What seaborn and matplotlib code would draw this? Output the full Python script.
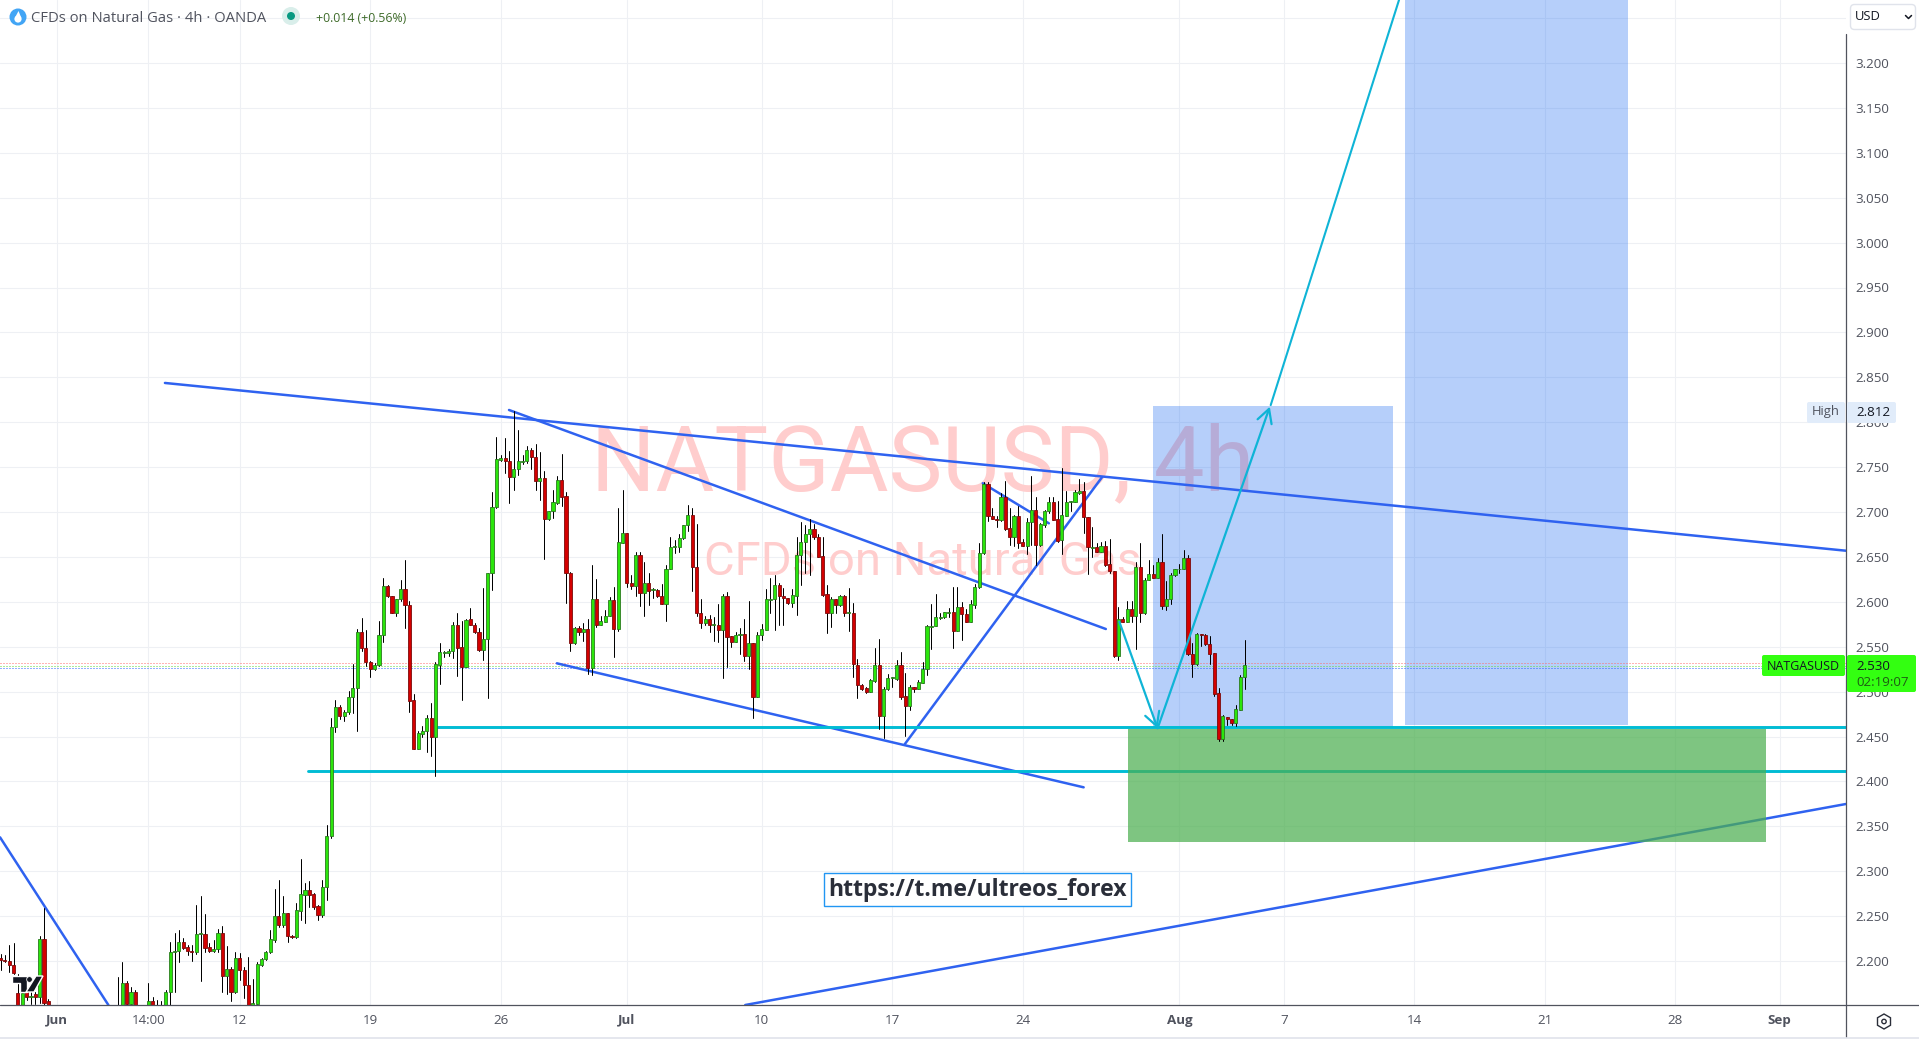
"""
NATGASUSD 4h chart with trend lines and target zones
"""

import matplotlib
matplotlib.use("Agg")
import matplotlib.pyplot as plt
from matplotlib.lines import Line2D
from matplotlib.patches import Circle, FancyBboxPatch, Polygon, Rectangle, RegularPolygon
from matplotlib.transforms import Affine2D
import numpy as np
import pandas as pd
import seaborn as sns

nan = float("nan")

# Candles, one entry per 4h bar. nan = bar sits under the visible price range
highs = [
    2.208, 2.207, 2.218, 2.220, 2.186, 2.172, 2.179, 2.166, 2.166, 2.228,
    2.259, 2.158, nan, nan, nan, nan, nan, nan, nan, nan,
    nan, nan, nan, nan, nan, nan, nan, 2.182, 2.199, 2.178,
    2.171, 2.168, nan, nan, 2.176, 2.160, 2.157, 2.156, 2.168, 2.221,
    2.231, 2.235, 2.226, 2.218, 2.218, 2.262, 2.272, 2.252, 2.220, 2.223,
    2.236, 2.239, 2.217, 2.193, 2.210, 2.209, 2.193, 2.204, 2.180, 2.199,
    2.203, 2.211, 2.235, 2.280, 2.290, 2.272, 2.254, 2.229, 2.265, 2.314,
    2.287, 2.289, 2.276, 2.262, 2.290, 2.351, 2.471, 2.491, 2.485, 2.479,
    2.501, 2.531, 2.570, 2.582, 2.569, 2.534, 2.532, 2.579, 2.627, 2.619,
    2.606, 2.603, 2.624, 2.647, 2.601, 2.497, 2.456, 2.462, 2.474, 2.487,
    2.533, 2.554, 2.545, 2.547, 2.577, 2.587, 2.579, 2.581, 2.593, 2.576,
    2.571, 2.615, 2.632, 2.722, 2.783, 2.764, 2.782, 2.768, 2.812, 2.791,
    2.764, 2.774, 2.771, 2.776, 2.767, 2.746, 2.701, 2.725, 2.740, 2.765,
    2.722, 2.633, 2.572, 2.573, 2.576, 2.581, 2.641, 2.625, 2.584, 2.591,
    2.605, 2.616, 2.705, 2.725, 2.677, 2.630, 2.655, 2.655, 2.644, 2.632,
    2.615, 2.614, 2.620, 2.641, 2.672, 2.669, 2.676, 2.685, 2.708, 2.705,
    2.687, 2.603, 2.584, 2.585, 2.583, 2.597, 2.609, 2.611, 2.562, 2.566,
    2.571, 2.581, 2.601, 2.554, 2.566, 2.575, 2.614, 2.626, 2.630, 2.621,
    2.615, 2.604, 2.614, 2.672, 2.689, 2.685, 2.692, 2.687, 2.676, 2.672,
    2.619, 2.605, 2.603, 2.608, 2.608, 2.615, 2.599, 2.536, 2.508, 2.505,
    2.514, 2.548, 2.559, 2.505, 2.520, 2.516, 2.535, 2.544, 2.521, 2.507,
    2.505, 2.513, 2.533, 2.574, 2.597, 2.609, 2.588, 2.589, 2.593, 2.616,
    2.616, 2.600, 2.592, 2.602, 2.620, 2.665, 2.733, 2.733, 2.704, 2.696,
    2.721, 2.735, 2.704, 2.697, 2.707, 2.670, 2.693, 2.740, 2.717, 2.688,
    2.702, 2.717, 2.717, 2.712, 2.749, 2.723, 2.712, 2.724, 2.737, 2.733,
    2.694, 2.683, 2.665, 2.667, 2.668, 2.670, 2.634, 2.594, 2.583, 2.601,
    2.601, 2.644, 2.665, 2.626, 2.647, 2.641, 2.649, 2.676, 2.623, 2.632,
    2.637, 2.642, 2.658, 2.652, 2.554, 2.565, 2.564, 2.564, 2.562, 2.543,
    2.504, 2.474, 2.472, 2.469, 2.485, 2.518, 2.557,
]
lows = [
    2.190, 2.199, 2.188, 2.185, 2.120, 2.120, 2.157, 2.152, 2.152, 2.153,
    2.150, 2.120, nan, nan, nan, nan, nan, nan, nan, nan,
    nan, nan, nan, nan, nan, nan, nan, 2.130, 2.130, 2.148,
    2.148, 2.140, nan, nan, 2.130, 2.130, 2.130, 2.130, 2.148, 2.147,
    2.165, 2.199, 2.213, 2.207, 2.200, 2.208, 2.178, 2.210, 2.210, 2.210,
    2.210, 2.166, 2.163, 2.155, 2.164, 2.179, 2.159, 2.148, 2.150, 2.150,
    2.194, 2.201, 2.209, 2.221, 2.238, 2.238, 2.221, 2.226, 2.226, 2.246,
    2.242, 2.260, 2.258, 2.246, 2.249, 2.268, 2.337, 2.455, 2.469, 2.467,
    2.475, 2.476, 2.456, 2.545, 2.529, 2.516, 2.524, 2.529, 2.555, 2.605,
    2.588, 2.584, 2.601, 2.571, 2.477, 2.436, 2.436, 2.450, 2.433, 2.428,
    2.406, 2.509, 2.538, 2.540, 2.537, 2.517, 2.491, 2.527, 2.574, 2.565,
    2.545, 2.535, 2.493, 2.613, 2.705, 2.757, 2.743, 2.710, 2.725, 2.741,
    2.753, 2.755, 2.748, 2.724, 2.713, 2.648, 2.691, 2.693, 2.709, 2.707,
    2.599, 2.545, 2.553, 2.563, 2.556, 2.520, 2.519, 2.572, 2.574, 2.578,
    2.584, 2.539, 2.567, 2.665, 2.616, 2.614, 2.607, 2.595, 2.584, 2.596,
    2.604, 2.605, 2.597, 2.579, 2.637, 2.654, 2.655, 2.670, 2.679, 2.612,
    2.584, 2.571, 2.574, 2.566, 2.556, 2.555, 2.515, 2.527, 2.550, 2.555,
    2.542, 2.534, 2.525, 2.471, 2.494, 2.557, 2.569, 2.587, 2.569, 2.574,
    2.574, 2.598, 2.594, 2.585, 2.619, 2.632, 2.630, 2.670, 2.650, 2.607,
    2.565, 2.572, 2.588, 2.595, 2.584, 2.567, 2.516, 2.493, 2.502, 2.498,
    2.499, 2.511, 2.458, 2.448, 2.502, 2.505, 2.513, 2.492, 2.451, 2.479,
    2.500, 2.503, 2.510, 2.519, 2.547, 2.573, 2.581, 2.582, 2.583, 2.548,
    2.567, 2.558, 2.578, 2.577, 2.593, 2.615, 2.653, 2.690, 2.692, 2.683,
    2.690, 2.680, 2.663, 2.662, 2.660, 2.662, 2.653, 2.663, 2.641, 2.662,
    2.683, 2.699, 2.691, 2.667, 2.653, 2.696, 2.701, 2.711, 2.720, 2.677,
    2.631, 2.650, 2.655, 2.656, 2.640, 2.632, 2.539, 2.535, 2.578, 2.578,
    2.578, 2.547, 2.577, 2.586, 2.624, 2.626, 2.626, 2.592, 2.591, 2.597,
    2.629, 2.632, 2.636, 2.541, 2.516, 2.530, 2.551, 2.552, 2.531, 2.495,
    2.445, 2.445, 2.463, 2.463, 2.462, 2.479, 2.503,
]
opens = [
    2.203, 2.201, 2.200, 2.196, 2.164, 2.130, 2.166, 2.160, 2.163, 2.160,
    2.224, 2.155, nan, nan, nan, nan, nan, nan, nan, nan,
    nan, nan, nan, nan, nan, nan, nan, 2.140, 2.140, 2.176,
    2.152, 2.166, nan, nan, 2.140, 2.155, 2.140, 2.140, 2.148, 2.165,
    2.210, 2.211, 2.221, 2.216, 2.211, 2.210, 2.230, 2.230, 2.216, 2.211,
    2.213, 2.231, 2.183, 2.191, 2.165, 2.203, 2.190, 2.173, 2.151, 2.152,
    2.196, 2.202, 2.210, 2.223, 2.250, 2.240, 2.254, 2.228, 2.227, 2.256,
    2.274, 2.279, 2.275, 2.261, 2.251, 2.282, 2.339, 2.461, 2.483, 2.473,
    2.477, 2.494, 2.504, 2.566, 2.549, 2.533, 2.525, 2.530, 2.563, 2.618,
    2.606, 2.588, 2.603, 2.614, 2.596, 2.491, 2.436, 2.453, 2.456, 2.471,
    2.449, 2.530, 2.543, 2.543, 2.545, 2.574, 2.550, 2.527, 2.581, 2.574,
    2.566, 2.546, 2.559, 2.632, 2.706, 2.758, 2.760, 2.757, 2.739, 2.748,
    2.756, 2.757, 2.769, 2.761, 2.734, 2.738, 2.692, 2.701, 2.710, 2.736,
    2.718, 2.632, 2.554, 2.571, 2.566, 2.570, 2.526, 2.603, 2.574, 2.578,
    2.584, 2.602, 2.570, 2.666, 2.677, 2.621, 2.618, 2.652, 2.610, 2.621,
    2.613, 2.613, 2.607, 2.598, 2.637, 2.661, 2.661, 2.671, 2.685, 2.697,
    2.639, 2.588, 2.576, 2.581, 2.574, 2.574, 2.569, 2.606, 2.562, 2.555,
    2.563, 2.564, 2.540, 2.554, 2.494, 2.563, 2.569, 2.602, 2.603, 2.619,
    2.606, 2.604, 2.599, 2.607, 2.652, 2.667, 2.675, 2.681, 2.672, 2.651,
    2.609, 2.587, 2.603, 2.596, 2.607, 2.588, 2.588, 2.530, 2.507, 2.504,
    2.500, 2.512, 2.530, 2.473, 2.503, 2.515, 2.514, 2.530, 2.495, 2.484,
    2.505, 2.503, 2.510, 2.525, 2.572, 2.573, 2.582, 2.583, 2.588, 2.589,
    2.568, 2.594, 2.586, 2.578, 2.596, 2.616, 2.654, 2.731, 2.696, 2.692,
    2.691, 2.717, 2.682, 2.672, 2.695, 2.667, 2.662, 2.689, 2.702, 2.663,
    2.686, 2.701, 2.711, 2.692, 2.669, 2.696, 2.711, 2.711, 2.721, 2.723,
    2.694, 2.660, 2.661, 2.656, 2.662, 2.642, 2.634, 2.540, 2.581, 2.578,
    2.592, 2.584, 2.639, 2.587, 2.624, 2.631, 2.627, 2.644, 2.595, 2.603,
    2.630, 2.636, 2.636, 2.649, 2.542, 2.531, 2.564, 2.563, 2.553, 2.543,
    2.498, 2.447, 2.472, 2.469, 2.465, 2.480, 2.516,
]
closes = [
    2.201, 2.200, 2.195, 2.187, 2.130, 2.164, 2.160, 2.161, 2.160, 2.224,
    2.153, 2.130, nan, nan, nan, nan, nan, nan, nan, nan,
    nan, nan, nan, nan, nan, nan, nan, 2.145, 2.176, 2.152,
    2.166, 2.149, nan, nan, 2.155, 2.140, 2.145, 2.145, 2.166, 2.210,
    2.211, 2.221, 2.215, 2.211, 2.210, 2.230, 2.231, 2.215, 2.211, 2.213,
    2.231, 2.183, 2.191, 2.165, 2.203, 2.190, 2.173, 2.149, 2.153, 2.197,
    2.202, 2.210, 2.224, 2.250, 2.240, 2.253, 2.228, 2.227, 2.257, 2.275,
    2.279, 2.273, 2.260, 2.251, 2.282, 2.339, 2.461, 2.483, 2.473, 2.477,
    2.494, 2.504, 2.566, 2.549, 2.533, 2.525, 2.530, 2.563, 2.618, 2.606,
    2.588, 2.603, 2.614, 2.596, 2.490, 2.436, 2.454, 2.456, 2.471, 2.449,
    2.531, 2.544, 2.544, 2.545, 2.574, 2.549, 2.527, 2.580, 2.574, 2.566,
    2.546, 2.559, 2.632, 2.706, 2.759, 2.760, 2.757, 2.739, 2.748, 2.757,
    2.757, 2.769, 2.761, 2.734, 2.738, 2.692, 2.701, 2.711, 2.736, 2.717,
    2.632, 2.554, 2.571, 2.566, 2.570, 2.526, 2.603, 2.574, 2.579, 2.584,
    2.602, 2.570, 2.667, 2.677, 2.621, 2.618, 2.652, 2.610, 2.621, 2.612,
    2.614, 2.606, 2.598, 2.637, 2.661, 2.662, 2.671, 2.685, 2.697, 2.639,
    2.588, 2.576, 2.581, 2.574, 2.575, 2.569, 2.606, 2.561, 2.555, 2.563,
    2.564, 2.540, 2.554, 2.494, 2.563, 2.570, 2.603, 2.603, 2.619, 2.606,
    2.604, 2.599, 2.608, 2.652, 2.667, 2.676, 2.681, 2.672, 2.650, 2.608,
    2.587, 2.603, 2.596, 2.606, 2.588, 2.589, 2.531, 2.507, 2.503, 2.500,
    2.513, 2.530, 2.473, 2.503, 2.515, 2.516, 2.530, 2.494, 2.484, 2.505,
    2.503, 2.511, 2.525, 2.573, 2.573, 2.583, 2.583, 2.589, 2.589, 2.568,
    2.594, 2.586, 2.578, 2.597, 2.616, 2.654, 2.731, 2.695, 2.692, 2.691,
    2.717, 2.681, 2.672, 2.695, 2.666, 2.662, 2.689, 2.702, 2.663, 2.687,
    2.701, 2.711, 2.691, 2.668, 2.697, 2.711, 2.712, 2.722, 2.723, 2.694,
    2.661, 2.661, 2.656, 2.662, 2.641, 2.634, 2.540, 2.581, 2.578, 2.592,
    2.584, 2.639, 2.587, 2.624, 2.631, 2.626, 2.644, 2.595, 2.603, 2.630,
    2.637, 2.637, 2.649, 2.542, 2.531, 2.564, 2.563, 2.553, 2.542, 2.497,
    2.447, 2.473, 2.469, 2.465, 2.481, 2.516, 2.530,
]

# Axis ticks
time_tick_bars = [13, 34, 55, 85, 115, 144, 175, 205, 235, 271, 295, 325, 355, 385, 409]
time_tick_labels = ["Jun", "14:00", "12", "19", "26", "Jul", "10", "17", "24",
                    "Aug", "7", "14", "21", "28", "Sep"]
month_labels = ["Jun", "Jul", "Aug", "Sep"]
price_ticks = [2.20, 2.25, 2.30, 2.35, 2.40, 2.45, 2.50, 2.55, 2.60, 2.65, 2.70, 2.75,
               2.80, 2.85, 2.90, 2.95, 3.00, 3.05, 3.10, 3.15, 3.20, 3.25]

# Drawings, as (bar, price) pairs
trend_names = ["upper", "falling", "channel", "inner", "rising", "left", "base"]
trend_bars = [[37.8, 424.2], [116.9, 254.1], [127.9, 249.0], [225.8, 241.0],
              [207.9, 253.2], [-0.1, 24.8], [171.2, 424.2]]
trend_prices = [[2.8437, 2.6569], [2.8136, 2.5697], [2.5315, 2.3934], [2.7320, 2.6874],
                [2.4416, 2.7386], [2.3377, 2.1510], [2.1510, 2.3748]]
level_names = ["support_high", "support_low"]
level_bars = [[100.3, 424.2], [70.7, 424.2]]
level_prices = [2.4602, 2.4112]
arrow_bars = [[257.2, 266.0], [266.0, 291.8]]
arrow_prices = [[2.5778, 2.4591], [2.4591, 2.8173]]
target_line_bars = [292.0, 321.5]
target_line_prices = [2.8190, 3.2702]
zone_blue_bars = [[264.9, 320.1], [322.9, 374.1]]
zone_blue_prices = [[2.4606, 2.8181], [2.4632, 3.2702]]
zone_green_bars = [259.2, 405.9]
zone_green_prices = [2.3325, 2.4587]
last_prices = [2.5322, 2.5288, 2.5259]
last_colors = ["#FF6B6B", "#5FD93A", "#2962FF"]

W, H = 1919, 1040
AXIS_X, AXIS_Y = 1846, 1005
BAR_PX = 4.35
GREY = "#50535E"
TAG_GREEN = "#33FF11"

sns.set_theme(style="white")
plt.rcParams["font.family"] = ["Open Sans", "DejaVu Sans"]

fig = plt.figure(figsize=(W / 100, H / 100), dpi=100, facecolor="white")
ax = fig.add_axes([0, (H - AXIS_Y) / H, AXIS_X / W, AXIS_Y / H])
px = Affine2D().scale(1, -1).translate(0, H)  # image pixels, y going down

candles = pd.DataFrame({"bar": np.arange(len(highs)), "high": highs, "low": lows,
                        "open": opens, "close": closes}).dropna()
candles["base"] = candles[["open", "close"]].min(axis=1)
candles["body"] = (candles["close"] - candles["open"]).abs()
up = candles[candles["close"] >= candles["open"]]
down = candles[candles["close"] < candles["open"]]

# Gridlines and watermark sit at the very back
ax.set_axisbelow(True)
ax.grid(True, color="#EEF0F4", linewidth=0.8, zorder=0)
ax.text(0.5, (AXIS_Y - 490) / AXIS_Y, "NATGASUSD, 4h", transform=ax.transAxes, ha="center",
        va="baseline", fontsize=65, family="Roboto", color="#FFCDCD", zorder=1)
ax.text(0.5, (AXIS_Y - 575) / AXIS_Y, "CFDs on Natural Gas", transform=ax.transAxes, ha="center",
        va="baseline", fontsize=34, family="Roboto", color="#FFCDCD", zorder=1)

for bars, prices in zip(zone_blue_bars, zone_blue_prices):
    ax.add_patch(Rectangle((bars[0], prices[0]), bars[1] - bars[0], prices[1] - prices[0],
                           facecolor="#0F62F1", alpha=0.30, edgecolor="none", zorder=2))

for price, color in zip(last_prices, last_colors):
    ax.axhline(price, color=color, linewidth=0.72, linestyle=(0, (1.0, 2.0)), zorder=2.5)

# Trend lines
trend_df = pd.DataFrame({
    "line": np.repeat(trend_names, 2),
    "bar": np.concatenate(trend_bars),
    "price": np.concatenate(trend_prices),
})
sns.lineplot(data=trend_df, x="bar", y="price", units="line", estimator=None, sort=False,
             color="#2F62F0", linewidth=1.8, legend=False, ax=ax, zorder=3)

level_df = pd.DataFrame({
    "line": np.repeat(level_names, 2),
    "bar": np.concatenate(level_bars),
    "price": np.repeat(level_prices, 2),
})
sns.lineplot(data=level_df, x="bar", y="price", units="line", estimator=None, sort=False,
             color="#00BCD4", linewidth=2.1, legend=False, ax=ax, zorder=3)

ax.add_patch(Rectangle((zone_green_bars[0], zone_green_prices[0]),
                       zone_green_bars[1] - zone_green_bars[0],
                       zone_green_prices[1] - zone_green_prices[0],
                       facecolor="#4CAF50", alpha=0.72, edgecolor="none", zorder=4))

# Wicks then bodies
wick_df = candles.melt(id_vars="bar", value_vars=["high", "low"], value_name="price").sort_values("bar")
sns.lineplot(data=wick_df, x="bar", y="price", units="bar", estimator=None, sort=False,
             color="black", linewidth=0.72, legend=False, ax=ax, zorder=5)
sns.barplot(data=up, x="bar", y="body", bottom=up["base"].values, native_scale=True, width=0.72,
            estimator="mean", errorbar=None, color="#2BE60C", saturation=1, edgecolor="#2A7A1E",
            linewidth=0.6, ax=ax, zorder=6)
sns.barplot(data=down, x="bar", y="body", bottom=down["base"].values, native_scale=True, width=0.72,
            estimator="mean", errorbar=None, color="#D40000", saturation=1, edgecolor="#7A0A0A",
            linewidth=0.6, ax=ax, zorder=6)

# Forecast arrows
for bars, prices in zip(arrow_bars, arrow_prices):
    ax.annotate("", xy=(bars[1], prices[1]), xytext=(bars[0], prices[0]), zorder=7,
                arrowprops=dict(arrowstyle="->,head_length=0.7,head_width=0.38", color="#0FB4D6",
                                linewidth=1.6, shrinkA=0, shrinkB=0, mutation_scale=14))
ax.plot(target_line_bars, target_line_prices, color="#0FB4D6", linewidth=1.5, zorder=7)

ax.text((977.5) / AXIS_X, (AXIS_Y - 889.5) / AXIS_Y, "https://t.me/ultreos_forex", transform=ax.transAxes,
        ha="center", va="center", fontsize=16.6, fontweight="bold", color="#2A2E39", zorder=8,
        bbox=dict(boxstyle="square,pad=0.2", facecolor="white", edgecolor="#2196F3", linewidth=1))

# Axes
ax.set_xlim((0 - 0.5) / BAR_PX, (AXIS_X - 0.5) / BAR_PX)
ax.set_ylim(2.2 - (AXIS_Y - 961) / 898, 2.2 + 961 / 898)
ax.set_xticks(time_tick_bars)
ax.set_xticklabels(time_tick_labels)
ax.set_yticks(price_ticks)
ax.set_yticklabels([f"{p:.3f}" if p < 3.21 else "" for p in price_ticks])
ax.yaxis.tick_right()
ax.tick_params(axis="both", length=0, labelsize=9.6, labelcolor=GREY)
ax.tick_params(axis="y", pad=6.5)
ax.tick_params(axis="x", pad=6.2)
for label in ax.get_xticklabels():
    if label.get_text() in month_labels:
        label.set_fontweight("bold")
ax.set(xlabel="", ylabel="")
sns.despine(ax=ax, left=True, right=True, top=True, bottom=True)


def chrome(artist, z=2):
    artist.set_transform(px)
    artist.set_zorder(z)
    fig.add_artist(artist)
    return artist


def tag(x0, y0, x1, y1, color):
    chrome(FancyBboxPatch((x0, y0), x1 - x0, y1 - y0, boxstyle="round,pad=0,rounding_size=2",
                          facecolor=color, edgecolor="none"))


def label(x, y, s, **kw):
    kw.setdefault("va", "center")
    fig.text(x, y, s, transform=px, zorder=3, **kw)


# Frame lines of the scales
chrome(Line2D([0, W], [AXIS_Y, AXIS_Y], color=GREY, linewidth=0.9))
chrome(Line2D([AXIS_X, AXIS_X], [34, 1037], color=GREY, linewidth=0.9))
chrome(Line2D([0, W], [1038, 1038], color="#E0E3EB", linewidth=1.2))

# Legend row
chrome(Circle((18, 17), 8.5, facecolor="#42A5F5", edgecolor="none"))
chrome(Circle((18, 19), 3.6, facecolor="white", edgecolor="none"), z=2.1)
chrome(Polygon([(18.5, 11), (14.8, 18), (21.4, 18)], facecolor="white", edgecolor="none"), z=2.1)
label(31, 18.5, "CFDs on Natural Gas · 4h · OANDA", fontsize=10.65, color=GREY)
chrome(Circle((291, 16), 9, facecolor="#D9EEEA", edgecolor="none"))
chrome(Circle((291, 16), 4, facecolor="#089981", edgecolor="none"), z=2.1)
label(316, 18, "+0.014 (+0.56%)", fontsize=8.85, color="#3F6B2A")

# Currency button
chrome(FancyBboxPatch((1850.5, 4.5), 65, 25, boxstyle="round,pad=0,rounding_size=4",
                      facecolor="white", edgecolor="#E0E3EB", linewidth=1))
label(1855, 17, "USD", fontsize=9.4, color="#131722")
chrome(Line2D([1905.5, 1908.5, 1911.5], [15.5, 18.5, 15.5], color="#131722", linewidth=1.1))

# High tag
tag(1807, 402, 1845, 423, "#E1ECFA")
tag(1847, 402, 1896, 423, "#E1ECFA")
label(1826, 412, "High", ha="center", fontsize=9.4, color=GREY)
label(1856, 413, "2.812", fontsize=9.6, color="#131722")

# Last price tags
tag(1762, 655, 1845, 676, TAG_GREEN)
tag(1847, 655, 1916, 692, TAG_GREEN)
label(1803.5, 666, "NATGASUSD", ha="center", fontsize=9.0, color="#131722")
label(1856, 666, "2.530", fontsize=9.6, color="#131722")
label(1856, 682, "02:19:07", fontsize=9.6, color="#1E5C14")

# Logo in the corner
chrome(Polygon([(12, 976), (27, 976), (27, 992), (20, 992), (20, 983), (12, 983)],
               facecolor="#131722", edgecolor="white", linewidth=1), z=2)
chrome(Circle((29.5, 979.5), 2.8, facecolor="#131722", edgecolor="white", linewidth=0.5))
chrome(Polygon([(36, 976), (43, 976), (34, 992), (26, 992)], facecolor="#131722",
               edgecolor="white", linewidth=1))

# Settings cog
chrome(RegularPolygon((1884, 1021.5), 6, radius=7.5, facecolor="none", edgecolor="#2A2E39", linewidth=1))
chrome(Circle((1884, 1021.5), 2.2, facecolor="none", edgecolor="#2A2E39", linewidth=1))

fig.savefig("out.png", dpi=100, facecolor="white")
